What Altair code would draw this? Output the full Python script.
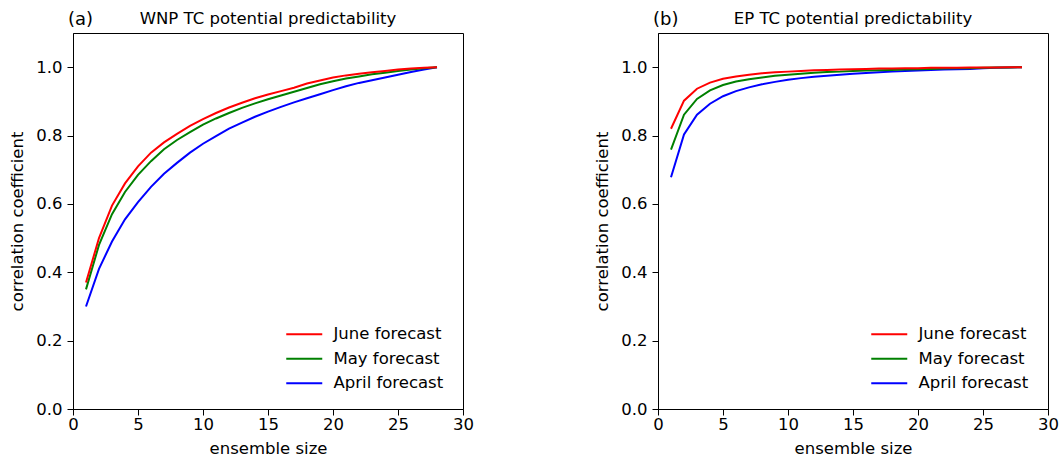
import altair as alt
import pandas as pd

FONT = "DejaVu Sans"

ensemble_size = list(range(1, 29))
series_names = ["June forecast", "May forecast", "April forecast"]
series_colors = ["#ff0000", "#008000", "#0000ff"]
x_ticks = [0, 5, 10, 15, 20, 25, 30]
y_ticks = [0.0, 0.2, 0.4, 0.6, 0.8, 1.0]

# (a) WNP
wnp_june = [0.37, 0.50, 0.595, 0.66, 0.71, 0.75, 0.78, 0.805, 0.828, 0.848,
            0.866, 0.882, 0.896, 0.909, 0.92, 0.93, 0.94, 0.952, 0.961, 0.97,
            0.976, 0.981, 0.985, 0.989, 0.993, 0.996, 0.998, 1.0]
wnp_may = [0.35, 0.48, 0.57, 0.635, 0.685, 0.725, 0.76, 0.787, 0.81, 0.832,
           0.85, 0.866, 0.881, 0.894, 0.906, 0.917, 0.928, 0.939, 0.95, 0.959,
           0.967, 0.973, 0.979, 0.984, 0.989, 0.993, 0.997, 1.0]
wnp_april = [0.30, 0.41, 0.49, 0.555, 0.605, 0.65, 0.688, 0.72, 0.75, 0.776,
             0.798, 0.82, 0.838, 0.855, 0.87, 0.884, 0.897, 0.909, 0.921, 0.933,
             0.944, 0.954, 0.962, 0.97, 0.978, 0.986, 0.993, 1.0]

# (b) EP
ep_june = [0.82, 0.902, 0.937, 0.955, 0.966, 0.973, 0.978, 0.982, 0.985, 0.987,
           0.989, 0.991, 0.992, 0.993, 0.994, 0.995, 0.996, 0.996, 0.997, 0.997,
           0.998, 0.998, 0.998, 0.999, 0.999, 0.999, 1.0, 1.0]
ep_may = [0.759, 0.861, 0.907, 0.932, 0.948, 0.958, 0.965, 0.97, 0.975, 0.978,
          0.981, 0.984, 0.986, 0.987, 0.989, 0.99, 0.991, 0.992, 0.993, 0.994,
          0.995, 0.996, 0.997, 0.997, 0.998, 0.999, 0.999, 1.0]
ep_april = [0.678, 0.803, 0.861, 0.893, 0.915, 0.93, 0.941, 0.95, 0.957, 0.963,
            0.968, 0.972, 0.975, 0.978, 0.981, 0.983, 0.985, 0.987, 0.989, 0.99,
            0.992, 0.993, 0.994, 0.995, 0.997, 0.998, 0.999, 1.0]


def to_long(june, may, april):
    rows = []
    # draw April first so June ends on top
    for name, vals in [("April forecast", april), ("May forecast", may), ("June forecast", june)]:
        for n, v in zip(ensemble_size, vals):
            rows.append({"n": n, "r": v, "forecast": name})
    return pd.DataFrame(rows)


def panel(df, title, tag):
    color = alt.Color(
        "forecast:N",
        scale=alt.Scale(domain=series_names, range=series_colors),
        legend=alt.Legend(
            title=None, orient="none", legendX=223, legendY=293,
            symbolType="M-3,0H3", symbolSize=144, symbolStrokeWidth=2,
            labelFont=FONT, labelFontSize=16.5, labelColor="black",
            labelOffset=21, rowPadding=7.5, padding=0,
        ),
    )
    lines = alt.Chart(df).mark_line(strokeWidth=2).encode(
        x=alt.X("n:Q", scale=alt.Scale(domain=[0, 30], nice=False),
                axis=alt.Axis(values=x_ticks, title="ensemble size", labelPadding=1,
                              titlePadding=8, labelFlush=False)),
        y=alt.Y("r:Q", scale=alt.Scale(domain=[0, 1.1], nice=False),
                axis=alt.Axis(values=y_ticks, format=".1f", title="correlation coefficient",
                              titlePadding=10, labelFlush=False)),
        color=color,
    )
    tag_text = alt.Chart(pd.DataFrame({"t": [tag]})).mark_text(
        align="left", baseline="alphabetic", fontSize=18, font=FONT, color="black"
    ).encode(x=alt.value(-5), y=alt.value(-8), text="t:N")
    title_text = alt.Chart(pd.DataFrame({"t": [title]})).mark_text(
        align="center", baseline="alphabetic", fontSize=16.5, font=FONT, color="black"
    ).encode(x=alt.value(195), y=alt.value(-9), text="t:N")
    return alt.layer(lines, tag_text, title_text).properties(width=390, height=376)


pa = panel(to_long(wnp_june, wnp_may, wnp_april), "WNP TC potential predictability", "(a)")
pb = panel(to_long(ep_june, ep_may, ep_april), "EP TC potential predictability", "(b)")

chart = alt.hconcat(pa, pb, spacing=120).resolve_scale(color="independent").resolve_legend(
    color="independent"
).properties(
    padding={"left": 9, "top": 10, "right": 0, "bottom": 0},
    background="white",
).configure_axis(
    domainColor="black", tickColor="black", labelColor="black", titleColor="black",
    labelFont=FONT, titleFont=FONT, labelFontSize=16.5, titleFontSize=16.5,
    titleFontWeight="normal", grid=False, tickSize=6, labelPadding=5,
    domainWidth=1, tickWidth=1,
).configure_view(stroke="black", strokeWidth=1)

chart.save("out.html", embed_options={"renderer": "svg", "actions": False})
